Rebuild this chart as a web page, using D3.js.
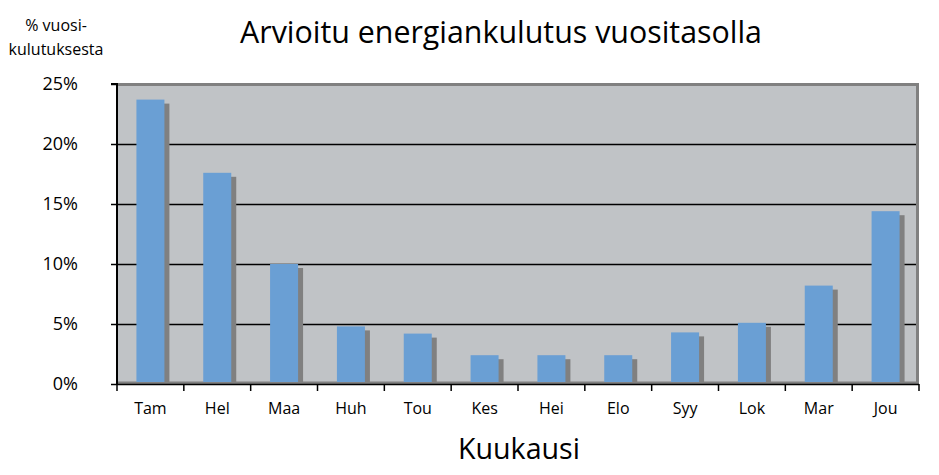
<!DOCTYPE html>
<html>
<head>
<meta charset="utf-8">
<script src="https://cdn.jsdelivr.net/npm/d3@7"></script>
<style>
  body { margin: 0; background: #fff; }
  text { font-family: "Open Sans", "Noto Sans", sans-serif; fill: #000; }
</style>
</head>
<body>
<svg id="chart" width="939" height="475"></svg>
<script>
const months = ["Tam","Hel","Maa","Huh","Tou","Kes","Hei","Elo","Syy","Lok","Mar","Jou"];
const shares = [23.7, 17.6, 10.0, 4.8, 4.2, 2.4, 2.4, 2.4, 4.3, 5.1, 8.2, 14.4];
const yTicks = [0, 5, 10, 15, 20, 25];
const titleText = "Arvioitu energiankulutus vuositasolla";
const yLabelLines = ["% vuosi-", "kulutuksesta"];
const xLabelText = "Kuukausi";

const svg = d3.select("#chart");
const L = 117, R = 919, T = 84, B = 384;

const x = d3.scaleBand().domain(months).range([L, R]).paddingInner(0).paddingOuter(0);
const y = d3.scaleLinear().domain([0, 25]).range([B, T]);

svg.append("rect").attr("x", L).attr("y", T).attr("width", R - L).attr("height", B - T)
  .attr("fill", "#c0c3c6");

svg.append("rect").attr("x", L).attr("y", 83).attr("width", R - L).attr("height", 3).attr("fill", "#808080");
svg.append("rect").attr("x", 916).attr("y", 83).attr("width", 3).attr("height", B - 83).attr("fill", "#808080");
svg.append("rect").attr("x", L).attr("y", 381.5).attr("width", R - L).attr("height", 2.5).attr("fill", "#808080");

svg.append("g").selectAll("line").data(yTicks.filter(d => d > 0 && d < 25)).join("line")
  .attr("x1", L).attr("x2", 916).attr("y1", d => Math.round(y(d)) + 0.5).attr("y2", d => Math.round(y(d)) + 0.5)
  .attr("stroke", "#000").attr("stroke-width", 1.5);

const bw = 28;
const bars = svg.append("g");
bars.selectAll("rect.shadow").data(shares).join("rect").attr("class", "shadow")
  .attr("x", (d, i) => x(months[i]) + x.bandwidth() / 2 - bw / 2 + 5)
  .attr("y", d => y(d) + 4)
  .attr("width", bw).attr("height", d => 382 - (y(d) + 4))
  .attr("fill", "#808080");
bars.selectAll("rect.bar").data(shares).join("rect").attr("class", "bar")
  .attr("x", (d, i) => x(months[i]) + x.bandwidth() / 2 - bw / 2)
  .attr("y", d => y(d))
  .attr("width", bw).attr("height", d => 382 - y(d))
  .attr("fill", "#6a9fd4");

const yAxis = d3.axisLeft(y).tickValues(yTicks).tickSize(6).tickFormat(d => d + "%");
const gy = svg.append("g").attr("transform", `translate(${L},0)`).call(yAxis);
gy.select(".domain").attr("stroke", "#000").attr("stroke-width", 2).attr("d", `M-6,${T}H0V${B}`);
gy.selectAll(".tick line").attr("stroke", "#000").attr("stroke-width", 1.5);
gy.selectAll(".tick text").attr("x", -39).attr("font-size", 18).style("font-family", "'Open Sans', sans-serif");

const xAxis = d3.axisBottom(x).tickSize(0).tickPadding(19);
const gx = svg.append("g").attr("transform", `translate(0,${B})`).call(xAxis);
gx.select(".domain").attr("stroke", "#000").attr("stroke-width", 1.5).attr("d", `M${L},0.5H${R}`);
gx.selectAll(".tick text").attr("font-size", 16).style("font-family", "'Open Sans', sans-serif");
const bounds = months.map(m => x(m)).concat([R]);
gx.append("g").selectAll("line").data(bounds).join("line")
  .attr("x1", d => d).attr("x2", d => d).attr("y1", 0).attr("y2", 7)
  .attr("stroke", "#000").attr("stroke-width", 1.5);

function fit(sel, target) {
  const w = sel.node().getComputedTextLength();
  const fs = parseFloat(sel.attr("font-size"));
  sel.attr("font-size", fs * target / w);
}
const title = svg.append("text").attr("x", 501).attr("y", 43).attr("text-anchor", "middle")
  .attr("font-size", 28).text(titleText);
fit(title, 522);

svg.append("text").attr("x", 56).attr("y", 31).attr("text-anchor", "middle").attr("font-size", 16).text(yLabelLines[0]);
svg.append("text").attr("x", 56).attr("y", 55).attr("text-anchor", "middle").attr("font-size", 16).text(yLabelLines[1]);

const xl = svg.append("text").attr("x", 519).attr("y", 459).attr("text-anchor", "middle")
  .attr("font-size", 28).text(xLabelText);
fit(xl, 122);
</script>
</body>
</html>
